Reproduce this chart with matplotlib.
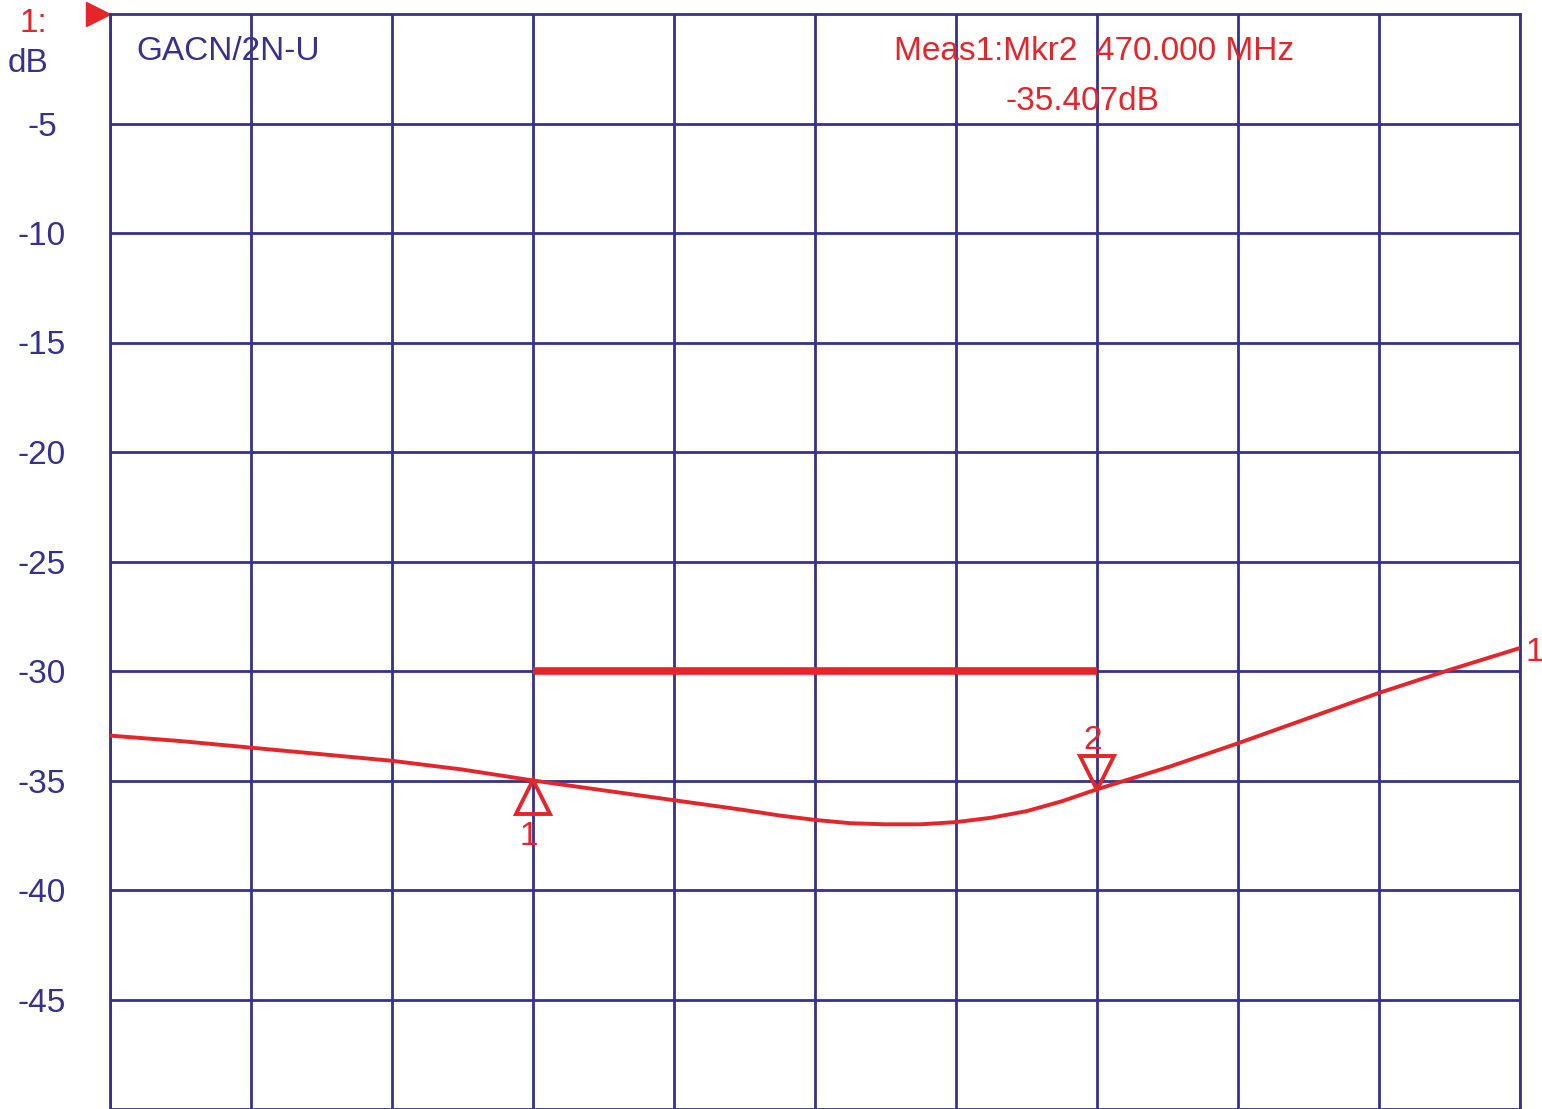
import matplotlib.pyplot as plt
from matplotlib.transforms import offset_copy

plt.rcParams['font.family'] = ['Liberation Sans', 'DejaVu Sans']

# sweep (MHz) and measured trace (dB)
freq = [50, 80, 110, 140, 170, 200, 230, 260, 290, 320, 335, 350, 365, 380,
        395, 410, 425, 440, 455, 470, 485, 500, 515, 530, 560, 590, 620, 650]
s21 = [-32.95, -33.2, -33.5, -33.8, -34.1, -34.5, -35.0, -35.45, -35.9, -36.35,
       -36.6, -36.8, -36.95, -37.0, -37.0, -36.9, -36.7, -36.4, -35.95, -35.4,
       -34.9, -34.4, -33.85, -33.3, -32.15, -31.0, -29.95, -28.95]

limit_freq = [230, 470]
limit_db = [-30, -30]

mkr_freq = [230, 470]
mkr_db = [-35.0, -35.407]

yticks = [-5, -10, -15, -20, -25, -30, -35, -40, -45]

blue = '#36318f'
red = '#e5252a'
fs = 24

fig = plt.figure(figsize=(15.42, 11.09), dpi=100)
fig.set_facecolor('white')
ax = fig.add_axes([110 / 1542, 0, 1410 / 1542, 1095 / 1109])

ax.set_xlim(50, 650)
ax.set_ylim(-50, 0)
ax.set_xticks(range(50, 651, 60))
ax.set_yticks(yticks)
ax.set_xticklabels([])
ax.set_yticklabels([str(v) for v in yticks])
ax.tick_params(axis='both', length=0)
ax.tick_params(axis='y', pad=49, labelsize=fs, labelcolor=blue)
for lab in ax.get_yticklabels():
    lab.set_ha('center')
    lab.set_va('center_baseline')
ax.grid(True, color=blue, linewidth=2.0)
for sp in ax.spines.values():
    sp.set_color(blue)
    sp.set_linewidth(2.0)

# trace and limit line
ax.plot(freq, s21, color=red, linewidth=2.8, zorder=3)
ax.plot(limit_freq, limit_db, color=red, linewidth=5.5, solid_capstyle='butt', zorder=3)

# markers
ms = 24
up = offset_copy(ax.transData, fig=fig, x=0, y=-ms / 2, units='points')
dn = offset_copy(ax.transData, fig=fig, x=0, y=ms / 2, units='points')
ax.plot([mkr_freq[0]], [mkr_db[0]], marker='^', ms=ms, mfc='none', mec=red,
        mew=2.8, transform=up, zorder=4)
ax.plot([mkr_freq[1]], [mkr_db[1]], marker='v', ms=ms, mfc='none', mec=red,
        mew=2.8, transform=dn, zorder=4)
ax.annotate('1', (mkr_freq[0], mkr_db[0]), xytext=(-3, -38), textcoords='offset points',
            ha='center', va='center_baseline', color=red, fontsize=fs)
ax.annotate('2', (mkr_freq[1], mkr_db[1]), xytext=(-3, 38), textcoords='offset points',
            ha='center', va='center_baseline', color=red, fontsize=fs)
ax.annotate('1', (freq[-1], s21[-1]), xytext=(4, -1), textcoords='offset points',
            ha='left', va='center_baseline', color=red, fontsize=fs, annotation_clip=False)

# reference arrow and header text
ax.plot([0], [1], marker='>', ms=17, color=red, transform=offset_copy(
    ax.transAxes, fig=fig, x=-9, y=0, units='points'), clip_on=False)
fig.text(33 / 1542, 1 - 20 / 1109, '1:', color=red, fontsize=fs,
         ha='center', va='center_baseline')
fig.text(28 / 1542, 1 - 60 / 1109, 'dB', color=blue, fontsize=fs,
         ha='center', va='center_baseline')
ax.text(136 / 1542, 1 - 48 / 1109, 'GACN/2N-U', transform=fig.transFigure,
        color=blue, fontsize=fs, ha='left', va='center_baseline')
ax.text(1094 / 1542, 1 - 48 / 1109, 'Meas1:Mkr2  470.000 MHz', transform=fig.transFigure,
        color=red, fontsize=fs, ha='center', va='center_baseline')
ax.text(1082 / 1542, 1 - 98 / 1109, '-35.407dB', transform=fig.transFigure,
        color=red, fontsize=fs, ha='center', va='center_baseline')

fig.savefig('out.png', dpi=100)
